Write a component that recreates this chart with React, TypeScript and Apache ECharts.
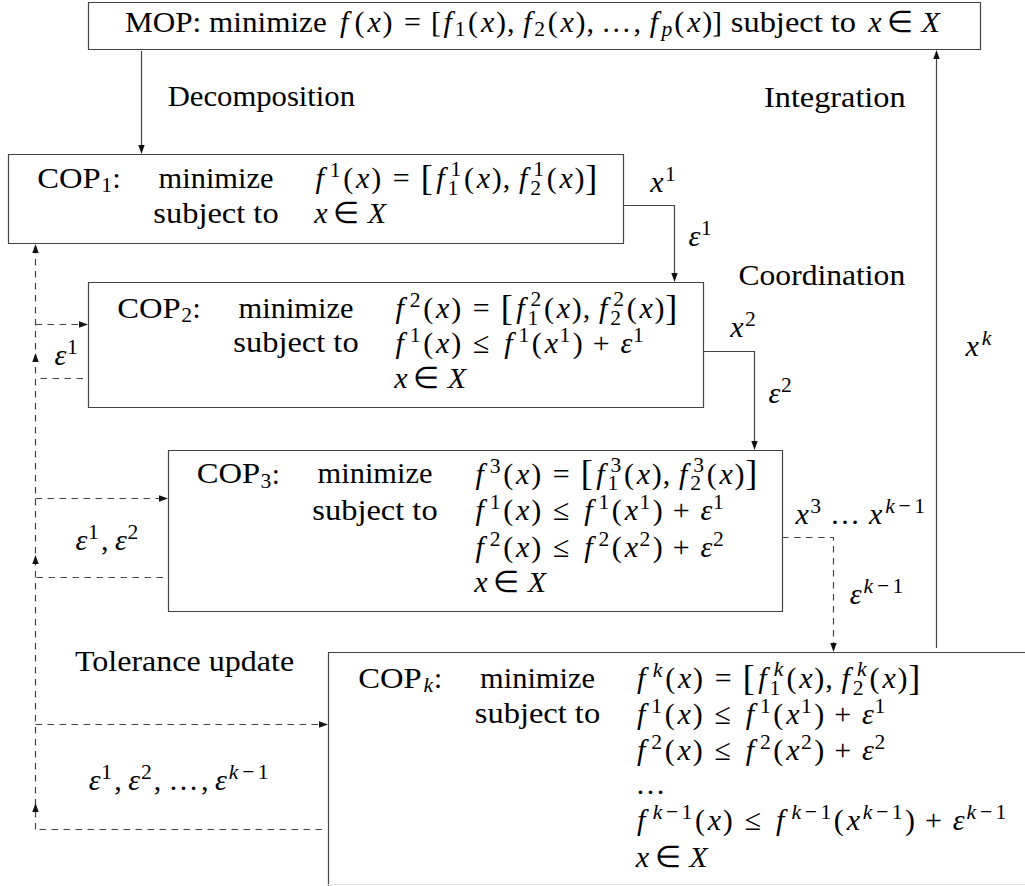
import React, { useEffect, useRef } from 'react';
import * as echarts from 'echarts';

// ---------------- content (text of the diagram) ----------------
const MOP_LINE = [
  { r: 'MOP: minimize' },
  { m: 'f(x)=[f_1(x),f_2(x),…,f_p(x)]' },
  { r: 'subject to' },
  { m: 'x∈X' },
];
const COP_INDEX = ['1', '2', '3', 'k'];
const COP_VERBS = ['minimize', 'subject to'];
const COP_OBJECTIVE = [
  'f^1(x)=«f_1^1(x),f_2^1(x)»',
  'f^2(x)=«f_1^2(x),f_2^2(x)»',
  'f^3(x)=«f_1^3(x),f_2^3(x)»',
  'f^k(x)=«f_1^k(x),f_2^k(x)»',
];
const COP_CONSTRAINTS = [
  ['x∈X'],
  ['f^1(x)≤f^1(x^1)+ε^1', 'x∈X'],
  ['f^1(x)≤f^1(x^1)+ε^1', 'f^2(x)≤f^2(x^2)+ε^2', 'x∈X'],
  ['f^1(x)≤f^1(x^1)+ε^1', 'f^2(x)≤f^2(x^2)+ε^2', '…', 'f^{k−1}(x)≤f^{k−1}(x^{k−1})+ε^{k−1}', 'x∈X'],
];
const STAGE_LABELS = ['Decomposition', 'Integration', 'Coordination', 'Tolerance update'];
const SOLUTION_LABELS = ['x^1', 'x^2', 'x^3 … x^{k−1}', 'x^k'];
const TOLERANCE_LABELS = ['ε^1', 'ε^2', 'ε^{k−1}'];
const FEEDBACK_LABELS = ['ε^1', 'ε^1,ε^2', 'ε^1,ε^2,…,ε^{k−1}'];

// ---------------- layout ----------------
const FAMILY = '"Liberation Serif", serif';
const EM = 29.1; // advance-width unit (TeX em)
const S = 30; // glyph size
const LINE = '#444';
const DASH = [6.5, 5.5];

const MOP_BOX = [88, 2, 892, 47];
const MOP_BASE = 32;
const COP_BOX = [
  [8, 154, 615, 89],
  [88, 282, 615, 125],
  [168, 450, 614, 161],
  [328, 652, 800, 300],
];
const COP_LABEL_X = [37.3, 117.3, 196.7, 358.3];
const COP_VERB_CX = [216, 296, 375, 537.5];
const COP_FORM_X = [312, 392, 472, 633.5];
const COP_BASELINES = [
  [188, 223],
  [318, 352.5, 388],
  [483.5, 520, 556.5, 592],
  [688, 723.5, 760, 793.5, 830, 866.5],
];
const STAGE_POS = [[167.7, 106], [764, 107], [738.5, 285], [75, 671]];
const SOLUTION_POS = [[648, 191.5], [728, 337], [793.3, 523.3], [963.3, 356]];
const TOLERANCE_POS = [[687, 246], [767, 403], [848.3, 603.3]];
const FEEDBACK_POS = [[53, 365], [74, 550], [87.3, 790]];

// ---------------- Computer-Modern-like advance widths (em) ----------------
const CMR: Record<string, number> = {
  a: 0.5, b: 0.556, c: 0.444, d: 0.556, e: 0.444, f: 0.306, g: 0.5, h: 0.556, i: 0.278, j: 0.306,
  k: 0.528, l: 0.278, m: 0.833, n: 0.556, o: 0.5, p: 0.556, q: 0.528, r: 0.392, s: 0.394, t: 0.389,
  u: 0.556, v: 0.528, w: 0.722, x: 0.528, y: 0.528, z: 0.444,
  C: 0.722, D: 0.764, I: 0.361, M: 0.917, O: 0.778, P: 0.681, T: 0.722, X: 0.75,
  ' ': 0.333, ':': 0.278, '.': 0.278, ',': 0.278, '(': 0.389, ')': 0.389, '[': 0.278, ']': 0.278,
  '=': 0.778, '+': 0.778, '≤': 0.778, '∈': 0.667, '−': 0.778, '…': 1.172,
  '0': 0.5, '1': 0.5, '2': 0.5, '3': 0.5, '4': 0.5, '5': 0.5, '6': 0.5, '7': 0.5, '8': 0.5, '9': 0.5,
};
const CMMI: Record<string, number> = { f: 0.49, x: 0.572, X: 0.828, k: 0.521, p: 0.503, ε: 0.466 };
const ITCORR: Record<string, number> = { f: 0.108, X: 0.024 };

const fontOf = (size: number, italic: boolean) => `${italic ? 'italic' : 'normal'} normal ${size}px ${FAMILY}`;
let _ctx: CanvasRenderingContext2D | null = null;
function measure(t: string, size: number, italic: boolean) {
  if (!_ctx) _ctx = document.createElement('canvas').getContext('2d');
  _ctx!.font = fontOf(size, italic);
  return _ctx!.measureText(t).width;
}
function cmWidth(str: string) {
  let w = 0;
  for (let i = 0; i < str.length; i++) {
    w += CMR[str[i]] ?? 0.5;
    if (str[i] === 'T' && str[i + 1] === 'o') w -= 0.083;
  }
  return w;
}

// piece: glyph text placed at x with horizontal scale sx
type Piece = { t: string; x: number; dy: number; size: number; italic: boolean; sx: number };

function readGroup(s: string, i: number): [string, number] {
  if (s[i] === '{') {
    let depth = 1;
    let j = i + 1;
    while (j < s.length && depth > 0) {
      if (s[j] === '{') depth++;
      else if (s[j] === '}') depth--;
      j++;
    }
    return [s.slice(i + 1, j - 1), j];
  }
  return [s[i], i + 1];
}

// em: advance unit, gs: glyph size
function layoutMath(s: string, em: number, gs: number, script = false): { pieces: Piece[]; width: number } {
  const pieces: Piece[] = [];
  let x = 0;
  let i = 0;
  let prevChar = '';
  while (i < s.length) {
    const c = s[i];
    if (c === '^' || c === '_') {
      let sup: string | null = null;
      let sub: string | null = null;
      while (i < s.length && (s[i] === '^' || s[i] === '_')) {
        const k = s[i];
        const [g, j] = readGroup(s, i + 1);
        i = j;
        if (k === '^') sup = g;
        else sub = g;
      }
      const sem = em * 0.8; // script widths (cmr7 at 7pt)
      const sgs = gs * 0.72;
      const delta = (ITCORR[prevChar] ?? 0) * em;
      let w = 0;
      if (sup !== null) {
        const L = layoutMath(sup, sem, sgs, true);
        const up = em * (sub !== null ? 0.4 : 0.36);
        L.pieces.forEach((p) => pieces.push({ ...p, x: p.x + x + delta, dy: p.dy - up }));
        w = Math.max(w, L.width + delta);
      }
      if (sub !== null) {
        const L = layoutMath(sub, sem, sgs, true);
        const down = em * (sup !== null ? 0.25 : 0.15);
        L.pieces.forEach((p) => pieces.push({ ...p, x: p.x + x, dy: p.dy + down }));
        w = Math.max(w, L.width);
      }
      x += w + em * 0.05;
      prevChar = '';
      continue;
    }
    if (c === ' ') {
      x += em * 0.167;
      i++;
      continue;
    }
    let t = c;
    const italic = c in CMMI;
    let adv = italic ? CMMI[c] : CMR[c] ?? 0.5;
    let gsz = gs;
    let dy = 0;
    if (c === '«' || c === '»') {
      t = c === '«' ? '[' : ']';
      adv = 0.417;
      gsz = gs * 1.2;
      dy = em * 0.07;
    }
    let before = 0;
    let after = 0;
    if (!script) {
      if ('=≤∈'.includes(c)) { before = after = 0.278; }
      else if (c === '+') { before = after = 0.222; }
      else if (c === ',') { after = 0.167; }
    }
    // italic correction when no script follows
    const next = s[i + 1];
    const corr = italic && next !== '^' && next !== '_' ? ITCORR[c] ?? 0 : 0;
    x += before * em;
    const boxW = adv * em;
    const gw = measure(t, gsz, italic);
    pieces.push({ t, x: x + (boxW - gw) / 2 + (italic ? em * 0.02 : 0), dy, size: gsz, italic, sx: 1 });
    x += boxW + corr * em + after * em;
    prevChar = c;
    i++;
  }
  return { pieces, width: x };
}

function romanPiece(str: string, x: number, em = EM, gs = S): { piece: Piece; width: number } {
  const target = cmWidth(str) * em;
  const m = measure(str, gs, false);
  return { piece: { t: str, x, dy: 0, size: gs, italic: false, sx: target / m }, width: target };
}

type Seg = { r?: string; m?: string };
function layoutSegs(segs: Seg[]) {
  const pieces: Piece[] = [];
  let x = 0;
  segs.forEach((seg, k) => {
    if (k > 0 && (seg.r !== undefined || segs[k - 1].r !== undefined)) x += 0.333 * EM;
    if (seg.r !== undefined) {
      const R = romanPiece(seg.r, x);
      pieces.push(R.piece);
      x += R.width;
    } else if (seg.m !== undefined) {
      const L = layoutMath(seg.m, EM, S);
      L.pieces.forEach((p) => pieces.push({ ...p, x: p.x + x }));
      x += L.width;
    }
  });
  return { pieces, width: x };
}

function textEl(p: Piece, x0: number, baseline: number) {
  return {
    type: 'text',
    x: x0 + p.x,
    y: baseline + p.dy - 0.3375 * p.size,
    scaleX: p.sx,
    silent: true,
    style: {
      text: p.t,
      font: fontOf(p.size, p.italic),
      fill: '#000',
      align: 'left',
      verticalAlign: 'middle',
    },
  };
}
function piecesEls(pieces: Piece[], x0: number, baseline: number) {
  return pieces.map((p) => textEl(p, x0, baseline));
}
const mathAt = (s: string, x: number, b: number) => piecesEls(layoutMath(s, EM, S).pieces, x, b);
const romanAt = (s: string, x: number, b: number) => piecesEls([romanPiece(s, 0).piece], x, b);

// ---------------- drawing primitives ----------------
function line(points: number[][], dashed = false) {
  return {
    type: 'polyline',
    silent: true,
    shape: { points },
    style: { stroke: LINE, lineWidth: 1.2, fill: null, lineDash: dashed ? DASH : null },
  };
}
function head(x: number, y: number, dir: 'up' | 'down' | 'left' | 'right') {
  const L = 9;
  const W = 3.2;
  let pts: number[][];
  if (dir === 'down') pts = [[x, y], [x - W, y - L], [x + W, y - L]];
  else if (dir === 'up') pts = [[x, y], [x - W, y + L], [x + W, y + L]];
  else if (dir === 'right') pts = [[x, y], [x - L, y - W], [x - L, y + W]];
  else pts = [[x, y], [x + L, y - W], [x + L, y + W]];
  return { type: 'polygon', silent: true, shape: { points: pts }, style: { fill: '#111', stroke: null } };
}
function rect(b: number[]) {
  return {
    type: 'rect',
    silent: true,
    shape: { x: b[0] + 0.5, y: b[1] + 0.5, width: b[2], height: b[3] },
    style: { fill: '#fff', stroke: LINE, lineWidth: 1.2 },
  };
}

function buildElements() {
  const els: any[] = [];
  els.push(rect(MOP_BOX));
  COP_BOX.forEach((b) => els.push(rect(b)));

  const mop = layoutSegs(MOP_LINE);
  els.push(...piecesEls(mop.pieces, MOP_BOX[0] + (MOP_BOX[2] - mop.width) / 2, MOP_BASE));

  COP_INDEX.forEach((idx, k) => {
    const base = COP_BASELINES[k];
    const lab = romanPiece('COP', 0);
    const sub = layoutMath('_{' + idx + '}', EM, S);
    const colon = romanPiece(':', lab.width + sub.width - EM * 0.05);
    const all: Piece[] = [lab.piece, ...sub.pieces.map((p) => ({ ...p, x: p.x + lab.width })), colon.piece];
    els.push(...piecesEls(all, COP_LABEL_X[k], base[0]));
    COP_VERBS.forEach((v, j) => {
      const R = romanPiece(v, 0);
      els.push(...piecesEls([R.piece], COP_VERB_CX[k] - R.width / 2, base[j]));
    });
    els.push(...mathAt(COP_OBJECTIVE[k], COP_FORM_X[k], base[0]));
    COP_CONSTRAINTS[k].forEach((c, j) => {
      els.push(...mathAt(c, COP_FORM_X[k], base[j + 1]));
    });
  });

  STAGE_LABELS.forEach((t, k) => els.push(...romanAt(t, STAGE_POS[k][0], STAGE_POS[k][1])));
  SOLUTION_LABELS.forEach((t, k) => els.push(...mathAt(t, SOLUTION_POS[k][0], SOLUTION_POS[k][1])));
  TOLERANCE_LABELS.forEach((t, k) => els.push(...mathAt(t, TOLERANCE_POS[k][0], TOLERANCE_POS[k][1])));
  FEEDBACK_LABELS.forEach((t, k) => els.push(...mathAt(t, FEEDBACK_POS[k][0], FEEDBACK_POS[k][1])));

  els.push(line([[141.5, 51], [141.5, 146]]), head(141.5, 154, 'down'));
  els.push(line([[623, 205.5], [674.5, 205.5], [674.5, 274]]), head(674.5, 282, 'down'));
  els.push(line([[703, 351.5], [754.5, 351.5], [754.5, 442]]), head(754.5, 450, 'down'));
  els.push(line([[936.5, 648], [936.5, 58]]), head(936.5, 50, 'up'));

  els.push(line([[782, 537.5], [833.5, 537.5], [833.5, 644]], true), head(833.5, 652, 'down'));
  els.push(line([[35.5, 829.5], [35.5, 252]], true), head(35.5, 244, 'up'));
  els.push(line([[35.5, 324.5], [80, 324.5]], true), head(88, 324.5, 'right'));
  els.push(line([[35.5, 498.5], [160, 498.5]], true), head(168, 498.5, 'right'));
  els.push(line([[35.5, 724.5], [320, 724.5]], true), head(328, 724.5, 'right'));
  els.push(line([[83, 378.5], [35.5, 378.5]], true), head(35.5, 353, 'up'));
  els.push(line([[163, 577.5], [35.5, 577.5]], true), head(35.5, 555, 'up'));
  els.push(line([[322, 829.5], [35.5, 829.5]], true), head(35.5, 803, 'up'));

  els.push({ type: 'line', silent: true, shape: { x1: 328, y1: 884.5, x2: 1025, y2: 884.5 }, style: { stroke: '#e6e6e6', lineWidth: 1 } });
  return els;
}

export default function App() {
  const ref = useRef<HTMLDivElement>(null);
  useEffect(() => {
    if (!ref.current) return;
    const chart = echarts.init(ref.current, null, { renderer: 'svg' });
    chart.setOption({
      animation: false,
      backgroundColor: '#fff',
      graphic: { elements: buildElements() },
    });
    return () => chart.dispose();
  }, []);
  return (
    <div
      ref={ref}
      style={{ position: 'absolute', left: 0, top: 0, width: 1025, height: 886, background: '#fff' }}
    />
  );
}
